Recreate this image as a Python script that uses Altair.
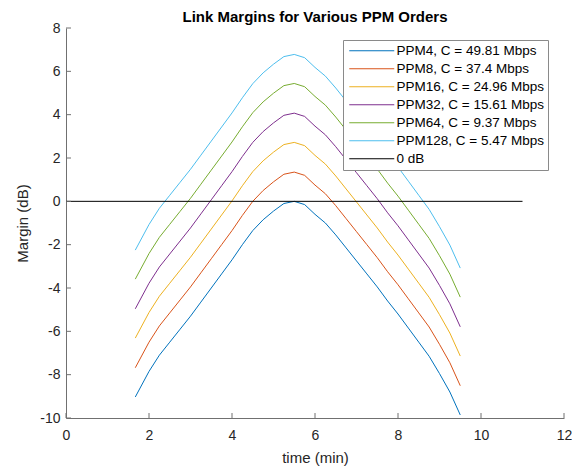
import altair as alt
import pandas as pd

# ---- data ----
time_min = [1.67, 2.0, 2.25, 2.5, 2.75, 3.0, 3.25, 3.5, 3.75, 4.0, 4.25, 4.5, 4.75, 5.0, 5.25, 5.5,
            5.75, 6.0, 6.25, 6.5, 6.75, 7.0, 7.25, 7.5, 7.75, 8.0, 8.25, 8.5, 8.75, 9.0, 9.25, 9.5]

ppm4 = [-9.03, -7.85, -7.10, -6.50, -5.90, -5.30, -4.65, -4.00, -3.35, -2.70, -2.00, -1.35, -0.85, -0.45, -0.10, 0.00,
        -0.15, -0.60, -1.00, -1.55, -2.15, -2.75, -3.35, -3.95, -4.60, -5.20, -5.85, -6.50, -7.15, -7.95, -8.80, -9.86]
ppm8 = [-7.68, -6.50, -5.75, -5.15, -4.55, -3.95, -3.30, -2.65, -2.00, -1.35, -0.65, 0.00, 0.50, 0.90, 1.25, 1.35,
        1.20, 0.75, 0.35, -0.20, -0.80, -1.40, -2.00, -2.60, -3.25, -3.85, -4.50, -5.15, -5.80, -6.60, -7.45, -8.51]
ppm16 = [-6.31, -5.13, -4.38, -3.78, -3.18, -2.58, -1.93, -1.28, -0.63, 0.02, 0.72, 1.37, 1.87, 2.27, 2.62, 2.72,
         2.57, 2.12, 1.72, 1.17, 0.57, -0.03, -0.63, -1.23, -1.88, -2.48, -3.13, -3.78, -4.43, -5.23, -6.08, -7.14]
ppm32 = [-4.96, -3.78, -3.03, -2.43, -1.83, -1.23, -0.58, 0.07, 0.72, 1.37, 2.07, 2.72, 3.22, 3.62, 3.97, 4.07,
         3.92, 3.47, 3.07, 2.52, 1.92, 1.32, 0.72, 0.12, -0.53, -1.13, -1.78, -2.43, -3.08, -3.88, -4.73, -5.79]
ppm64 = [-3.59, -2.41, -1.66, -1.06, -0.46, 0.14, 0.79, 1.44, 2.09, 2.74, 3.44, 4.09, 4.59, 4.99, 5.34, 5.44,
         5.29, 4.84, 4.44, 3.89, 3.29, 2.69, 2.09, 1.49, 0.84, 0.24, -0.41, -1.06, -1.71, -2.51, -3.36, -4.42]
ppm128 = [-2.25, -1.07, -0.32, 0.28, 0.88, 1.48, 2.13, 2.78, 3.43, 4.08, 4.78, 5.43, 5.93, 6.33, 6.68, 6.78,
          6.63, 6.18, 5.78, 5.23, 4.63, 4.03, 3.43, 2.83, 2.18, 1.58, 0.93, 0.28, -0.37, -1.17, -2.02, -3.08]

zero_x = [0, 11]
zero_y = [0, 0]

series_names = ["PPM4, C = 49.81 Mbps", "PPM8, C = 37.4 Mbps", "PPM16, C = 24.96 Mbps",
                "PPM32, C = 15.61 Mbps", "PPM64, C = 9.37 Mbps", "PPM128, C = 5.47 Mbps", "0 dB"]
series_colors = ["#0072BD", "#D95319", "#EDB120", "#7E2F8E", "#77AC30", "#4DBEEE", "#000000"]

x_ticks = [0, 2, 4, 6, 8, 10, 12]
y_ticks = [-10, -8, -6, -4, -2, 0, 2, 4, 6, 8]

# ---- build table ----
rows = []
for name, vals in zip(series_names[:6], [ppm4, ppm8, ppm16, ppm32, ppm64, ppm128]):
    for i, (t, v) in enumerate(zip(time_min, vals)):
        rows.append({"series": name, "t": t, "m": v, "order": i})
for i, (t, v) in enumerate(zip(zero_x, zero_y)):
    rows.append({"series": "0 dB", "t": t, "m": v, "order": i})
df = pd.DataFrame(rows)

FONT = "Liberation Sans"
W, H = 498, 390

xscale = alt.Scale(domain=[0, 12], nice=False, zero=False)
yscale = alt.Scale(domain=[-10, 8], nice=False, zero=False)

lines = alt.Chart(df).mark_line(strokeWidth=1, clip=True).encode(
    x=alt.X("t:Q", scale=xscale, title="time (min)",
            axis=alt.Axis(values=x_ticks, ticks=False, labelPadding=10, titlePadding=8,
                          labelFlush=False, labelExpr="datum.value + ''", grid=False)),
    y=alt.Y("m:Q", scale=yscale, title="Margin (dB)",
            axis=alt.Axis(values=y_ticks, ticks=False, labelPadding=6, titlePadding=9,
                          labelFlush=False, labelExpr="datum.value + ''", grid=False)),
    color=alt.Color("series:N",
                    scale=alt.Scale(domain=series_names, range=series_colors),
                    sort=series_names,
                    legend=alt.Legend(title=None, orient="none", legendX=277, legendY=12,
                                      symbolType="M-5,0H5", symbolSize=81, symbolStrokeWidth=1,
                                      symbolOffset=18,
                                      labelFontSize=13.5, labelFont=FONT, labelColor="#000000",
                                      labelOffset=18, rowPadding=3,
                                      padding=4, strokeColor="#8a8a8a", fillColor="white",
                                      labelLimit=300)),
    order="order:Q",
)

xt = pd.DataFrame({"v": x_ticks})
yt = pd.DataFrame({"v": y_ticks})
xtick_marks = alt.Chart(xt).mark_rule(color="#707070", strokeWidth=1).encode(
    x=alt.X("v:Q", scale=xscale), y=alt.value(H), y2=alt.value(H - 5))
ytick_marks = alt.Chart(yt).mark_rule(color="#707070", strokeWidth=1).encode(
    y=alt.Y("v:Q", scale=yscale), x=alt.value(0), x2=alt.value(5))

chart = alt.layer(lines, xtick_marks, ytick_marks).properties(
    width=W, height=H,
    title=alt.Title("Link Margins for Various PPM Orders", fontSize=15, font=FONT,
                    fontWeight="bold", color="#000000", anchor="middle", frame="group", offset=-4),
    autosize=alt.AutoSizeParams(type="none"),
    padding={"left": 58, "top": 20, "right": 8, "bottom": 48},
).configure_view(stroke=None).configure_axis(
    domainColor="#707070", domainWidth=1, labelFont=FONT, labelFontSize=14,
    labelColor="#262626", titleFont=FONT, titleFontSize=15, titleFontWeight="normal",
    titleColor="#262626",
).configure_axisX(labelBaseline="top")

chart.save("out.html", embed_options={"renderer": "svg", "actions": False})
